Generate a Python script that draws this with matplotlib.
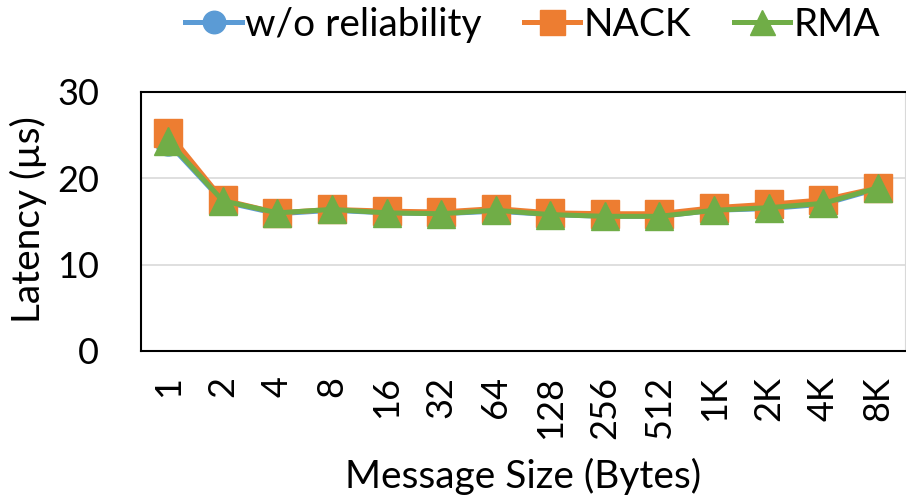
import matplotlib
matplotlib.use('Agg')
import matplotlib.pyplot as plt
import numpy as np

plt.rcParams['font.family'] = ['Lato', 'DejaVu Sans']

# Message sizes and measured latency (us) for each scheme
sizes = ['1', '2', '4', '8', '16', '32', '64', '128', '256', '512', '1K', '2K', '4K', '8K']
no_rel = [24.1, 17.3, 15.9, 16.3, 16.0, 15.9, 16.2, 15.8, 15.6, 15.6, 16.3, 16.5, 17.0, 18.8]
nack = [25.3, 17.5, 16.0, 16.4, 16.2, 16.1, 16.5, 16.0, 15.9, 15.9, 16.6, 17.0, 17.5, 18.9]
rma = [24.3, 17.4, 16.0, 16.4, 16.0, 15.9, 16.3, 15.8, 15.6, 15.6, 16.3, 16.6, 17.1, 18.9]

blue = '#5B9BD5'
orange = '#ED7D31'
green = '#70AD47'

fig = plt.figure(figsize=(9.06, 5.0), dpi=100)
ax = fig.add_axes([0.1556, 0.298, 0.8434, 0.518])

x = np.arange(len(sizes))
ax.plot(x, no_rel, color=blue, lw=3.6, marker='o', ms=18, label='w/o reliability')
ax.plot(x, nack, color=orange, lw=3.6, marker='s', ms=20, label='NACK')
ax.plot(x, rma, color=green, lw=3.6, marker='^', ms=20, label='RMA')

ax.set_xlim(-0.5, len(sizes) - 0.5)
ax.set_ylim(0, 30)
ax.set_yticks([0, 10, 20, 30])
ax.yaxis.grid(True, color='#D9D9D9', lw=1.2)
ax.set_axisbelow(True)

ax.set_xticks(x)
ax.set_xticklabels(sizes, rotation=90)
ax.tick_params(axis='x', length=0, pad=18, labelsize=26)
ax.tick_params(axis='y', length=0, pad=30, labelsize=26)

for side in ['left', 'top', 'bottom']:
    ax.spines[side].set_color('black')
    ax.spines[side].set_linewidth(1.5)
ax.spines['right'].set_color('#D9D9D9')

fig.text(0.031, 0.56, 'Latency (µs)', fontsize=28, rotation=90, ha='center', va='center')
fig.text(0.577, 0.048, 'Message Size (Bytes)', fontsize=28, ha='center', va='center')

fig.legend(loc='center', bbox_to_anchor=(0.588, 0.95), ncol=3, frameon=False,
           fontsize=28, handlelength=1.45, handletextpad=0.08, columnspacing=1.1,
           markerscale=0.9, borderaxespad=0)

plt.savefig('out.png', dpi=100)
